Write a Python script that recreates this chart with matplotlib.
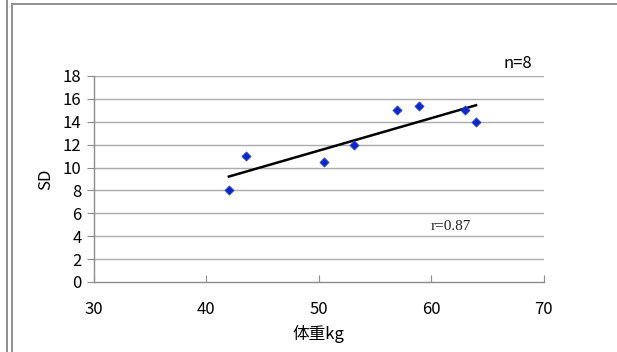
import numpy as np
import matplotlib
matplotlib.use("Agg")
import matplotlib.pyplot as plt
from matplotlib.lines import Line2D

plt.rcParams['font.family'] = ['Noto Sans CJK JP', 'DejaVu Sans']

# body weight (kg) vs SD
weight = [42.0, 43.5, 50.5, 53.1, 57.0, 58.9, 63.0, 64.0]
sd = [8.0, 11.0, 10.5, 12.0, 15.0, 15.4, 15.0, 14.0]
x_ticks = [30, 40, 50, 60, 70]
y_ticks = [0, 2, 4, 6, 8, 10, 12, 14, 16, 18]

W, H = 617, 352
fig = plt.figure(figsize=(W / 100, H / 100), dpi=100)
ax = fig.add_axes([94 / W, 1 - 282 / H, (543.5 - 94) / W, (282 - 76) / H])

# outer frame lines
frame_col = '#8f8f8f'
fig.add_artist(Line2D([6.5 / W, 6.5 / W], [0, 1], color=frame_col, lw=1.4,
                      transform=fig.transFigure))
fig.add_artist(Line2D([11.5 / W, 11.5 / W], [0, 1 - 3.5 / H], color=frame_col, lw=1.4,
                      transform=fig.transFigure))
fig.add_artist(Line2D([11.5 / W, 1], [1 - 3.5 / H, 1 - 3.5 / H], color=frame_col, lw=1.4,
                      transform=fig.transFigure))

# gridlines
for yv in y_ticks[1:]:
    ax.axhline(yv, color='#ababab', lw=1.0, zorder=1)

ax.scatter(weight, sd, marker='D', s=22, color='#0a28c8', edgecolor='#2a48e0',
           linewidths=0.5, zorder=4)

# linear trend line
slope, icept = np.polyfit(weight, sd, 1)
xs = np.array([min(weight), max(weight)])
ax.plot(xs, slope * xs + icept, color='black', lw=1.8, zorder=3)

ax.set_xlim(30, 70)
ax.set_ylim(0, 18)
ax.set_xticks(x_ticks)
ax.set_yticks(y_ticks)
for s in ['top', 'right']:
    ax.spines[s].set_visible(False)
for s in ['left', 'bottom']:
    ax.spines[s].set_color('#8c8c8c')
    ax.spines[s].set_linewidth(1.0)
ax.tick_params(axis='x', direction='in', length=5, color='#8c8c8c', pad=14,
               labelsize=12)
ax.tick_params(axis='y', direction='out', length=5, color='#8c8c8c', pad=4,
               labelsize=12)

ax.set_ylabel('SD', fontsize=12, labelpad=6)
ax.set_xlabel('体重kg', fontsize=12, labelpad=5)

fig.text(518 / W, 1 - 63 / H, 'n=8', fontsize=12, ha='center', va='center')
fig.text(451 / W, 1 - 227 / H, 'r=0.87', fontsize=11, ha='center', va='center',
         family='Liberation Serif', color='#222222')

fig.savefig('out.png', dpi=100)
